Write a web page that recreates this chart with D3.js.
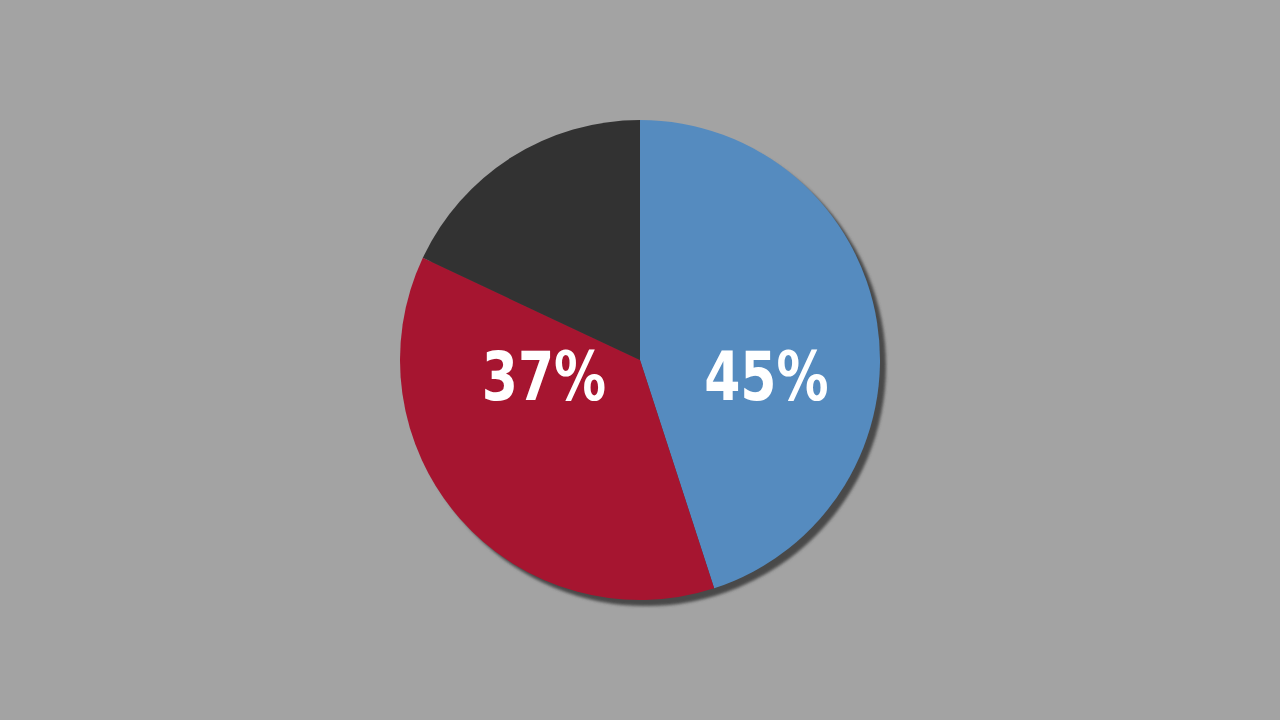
<!DOCTYPE html>
<html>
<head>
<meta charset="utf-8">
<script src="https://cdn.jsdelivr.net/npm/d3@7"></script>
<style>
  html, body { margin: 0; padding: 0; background: #a3a3a3; }
  svg { display: block; }
</style>
</head>
<body>
<svg id="chart" width="1280" height="720"></svg>
<script>
// slice data, clockwise from 12 o'clock
var categories = ["Blue", "Red", "Dark"];
var values = [45, 37, 18];
var labels = ["45%", "37%", ""];
var colors = ["#558bbf", "#a61530", "#323232"];

var width = 1280, height = 720,
    cx = 640, cy = 360,
    radius = 240;

var svg = d3.select("#chart");

svg.append("rect")
    .attr("width", width)
    .attr("height", height)
    .attr("fill", "#a3a3a3");

// soft drop shadow behind the pie
var defs = svg.append("defs");
defs.append("filter")
    .attr("id", "blur")
    .attr("x", "-10%").attr("y", "-10%")
    .attr("width", "120%").attr("height", "120%")
  .append("feGaussianBlur")
    .attr("stdDeviation", 1.5);

var g = svg.append("g")
    .attr("transform", "translate(" + cx + "," + cy + ")");

g.append("circle")
    .attr("cx", 6)
    .attr("cy", 6)
    .attr("r", radius)
    .attr("fill", "#4a4a4a")
    .attr("filter", "url(#blur)");

var pie = d3.pie()
    .sort(null)
    .value(function(d) { return d; });

var arc = d3.arc()
    .innerRadius(0)
    .outerRadius(radius);

var labelArc = d3.arc()
    .innerRadius(128)
    .outerRadius(128);

var color = d3.scaleOrdinal()
    .domain(categories)
    .range(colors);

var arcs = pie(values);

g.selectAll("path.slice")
    .data(arcs)
  .enter().append("path")
    .attr("class", "slice")
    .attr("d", arc)
    .attr("fill", function(d, i) { return color(categories[i]); });

// labels sit on one horizontal line, x taken from the slice direction
g.selectAll("text.label")
    .data(arcs)
  .enter().append("text")
    .attr("class", "label")
    .attr("transform", function(d) {
        var c = labelArc.centroid(d);
        return "translate(" + c[0] + ",40) scale(0.85,1)";
    })
    .attr("text-anchor", "middle")
    .attr("font-family", "'DejaVu Sans Condensed', 'DejaVu Sans', sans-serif")
    .attr("font-weight", "bold")
    .attr("font-size", 68)
    .attr("fill", "#ffffff")
    .text(function(d, i) { return labels[i]; });
</script>
</body>
</html>
